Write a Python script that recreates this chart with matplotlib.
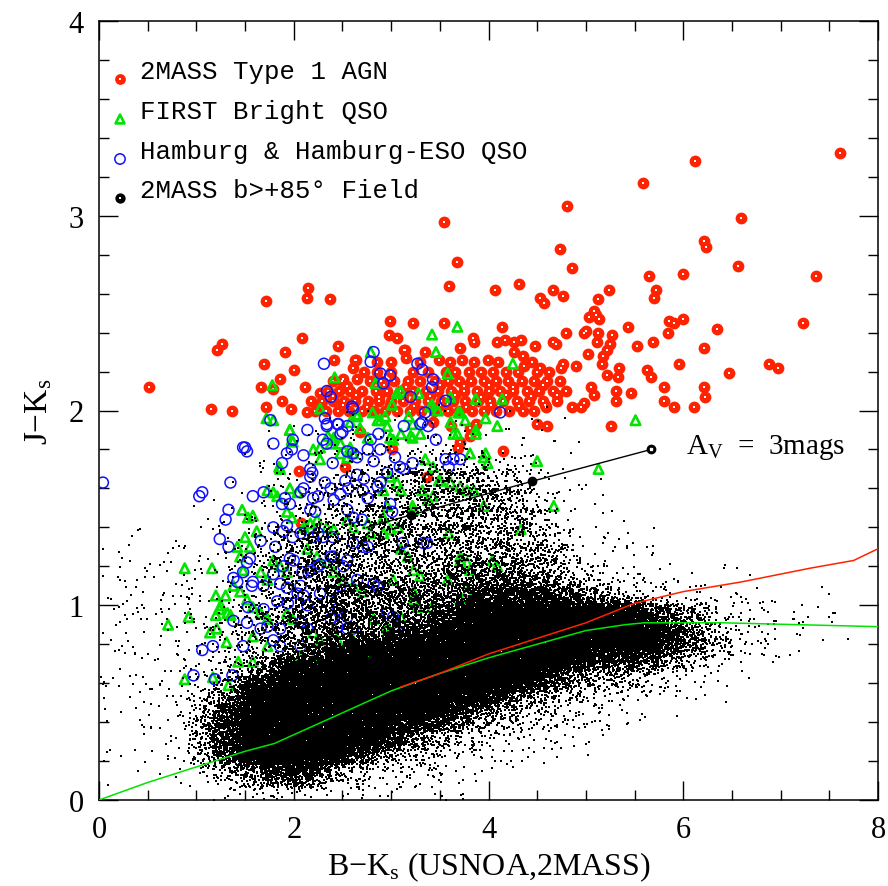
import numpy as np
import matplotlib
matplotlib.use("Agg")
import matplotlib.pyplot as plt

plt.rcParams['font.family'] = ['Liberation Serif', 'DejaVu Serif']
plt.rcParams['mathtext.fontset'] = 'custom'
plt.rcParams['mathtext.rm'] = 'Liberation Serif'
plt.rcParams['mathtext.it'] = 'Liberation Serif:italic'

# 2MASS Type 1 AGN (red)
agn_x = [0.51, 1.15, 1.37, 1.21, 1.26, 1.71, 2.15, 2.14, 2.37, 2.99, 3.22, 3.54, 2.98, 3.06, 3.84, 3.85,
         2.08, 1.91, 2.45, 3.14, 3.71, 4.09, 2.41, 2.64, 1.69, 2.00, 2.51, 1.86, 1.66, 2.12, 1.79, 1.72,
         1.97, 1.88, 2.14, 3.54, 3.68, 3.59, 4.07, 4.31, 4.81, 5.59, 6.12, 7.61, 6.59, 6.21, 6.23, 4.73,
         4.86, 6.56, 5.65, 6.00, 7.36, 4.66, 4.53, 4.57, 4.77, 5.24, 5.72, 5.70, 5.12, 5.08, 5.10, 5.13,
         5.03, 5.00, 4.98, 5.12, 5.11, 4.80, 5.27, 5.43, 5.85, 5.90, 6.00, 6.35, 7.23, 5.84, 5.69, 5.53,
         6.21, 4.66, 4.69, 4.48, 4.33, 5.25, 5.22, 5.18, 5.17, 5.02, 4.90, 4.74, 4.77, 4.53, 4.35, 4.36,
         5.34, 5.33, 5.22, 5.63, 5.67, 5.96, 6.88, 6.97, 6.47, 5.46, 5.31, 5.31, 5.05, 5.08, 5.80, 5.80,
         5.90, 6.11, 6.21, 6.22, 4.98, 4.95, 4.86, 4.59, 4.50, 4.60, 5.26, 3.61, 3.71, 3.81, 4.14, 3.13,
         3.15, 3.35, 3.49, 3.73, 3.99, 4.26, 4.17, 4.26, 2.63, 2.61, 2.50, 2.65, 2.27, 2.05, 2.07, 2.53,
         2.68, 3.01, 3.69, 3.81, 3.87, 3.43, 3.37, 4.15,
         # dense band
         2.22, 2.33, 2.45, 2.57, 2.70, 2.82, 2.94, 3.06, 3.19, 3.31, 3.44, 3.58, 3.70, 3.83, 3.95, 4.08,
         4.21, 4.35, 4.47,
         2.18, 2.29, 2.40, 2.52, 2.63, 2.76, 2.88, 3.00, 3.12, 3.25, 3.38, 3.51, 3.64, 3.76, 3.89, 4.02,
         4.15, 4.29, 4.42, 4.56, 4.70,
         2.35, 2.46, 2.58, 2.70, 2.84, 2.96, 3.09, 3.22, 3.36, 3.48, 3.62, 3.75, 3.88, 4.00, 4.12, 4.25,
         4.40, 4.52, 4.66, 4.80,
         2.40, 2.78, 2.90, 3.03, 3.17, 3.30, 3.45, 3.58, 3.70, 3.82, 3.95, 4.08, 4.20, 4.34, 4.47, 4.60,
         4.73,
         2.72, 2.86, 3.00, 3.22, 3.38, 3.56, 3.66, 3.80, 3.92, 4.05, 4.18, 4.30, 4.50, 4.62,
         2.86, 3.00, 3.30, 3.60, 3.85, 4.10, 4.45,
         2.28, 2.51, 2.75, 2.99, 3.24, 3.50, 3.77, 4.03, 4.31, 4.58,
         2.40, 2.64, 2.88, 3.12, 3.40, 3.66, 3.92, 4.18, 4.44, 4.70,
         2.55, 2.93, 3.15, 3.50, 3.75, 4.00, 4.25, 4.56]
agn_y = [2.12, 2.01, 2.00, 2.31, 2.34, 2.56, 2.63, 2.58, 2.57, 2.46, 2.45, 2.45, 2.39, 2.37, 2.37, 2.35,
         2.37, 2.30, 2.33, 2.31, 2.32, 2.35, 2.26, 2.26, 2.24, 2.21, 2.16, 2.16, 2.12, 2.12, 2.11, 2.02,
         2.01, 2.05, 1.99, 2.97, 2.76, 2.64, 2.62, 2.65, 3.05, 3.17, 3.28, 3.32, 2.99, 2.87, 2.84, 2.83,
         2.73, 2.74, 2.69, 2.70, 2.69, 2.62, 2.58, 2.55, 2.59, 2.62, 2.62, 2.58, 2.57, 2.51, 2.49, 2.47,
         2.48, 2.41, 2.40, 2.40, 2.35, 2.40, 2.39, 2.43, 2.46, 2.45, 2.47, 2.42, 2.45, 2.40, 2.35, 2.33,
         2.32, 2.35, 2.34, 2.33, 2.36, 2.34, 2.31, 2.28, 2.24, 2.29, 2.23, 2.22, 2.24, 2.22, 2.28, 2.23,
         2.22, 2.17, 2.18, 2.21, 2.17, 2.24, 2.24, 2.22, 2.19, 2.09, 2.10, 2.05, 2.12, 2.08, 2.12, 2.05,
         2.02, 2.02, 2.12, 2.07, 2.04, 2.02, 2.02, 2.02, 1.93, 1.92, 1.92, 1.92, 1.84, 1.87, 2.43, 2.31,
         2.27, 2.30, 2.26, 2.26, 2.26, 2.30, 2.36, 2.35, 2.26, 2.22, 2.15, 2.16, 2.09, 1.69, 1.42, 1.71,
         1.89, 1.80, 1.81, 1.91, 1.93, 1.94, 1.66, 1.79,
         2.00, 2.00, 2.00, 2.00, 2.00, 2.00, 2.00, 2.00, 2.00, 2.00, 2.00, 2.00, 2.00, 2.00, 2.00, 2.00,
         2.00, 2.00, 2.00,
         2.05, 2.05, 2.05, 2.05, 2.05, 2.05, 2.05, 2.05, 2.05, 2.05, 2.05, 2.05, 2.05, 2.05, 2.05, 2.05,
         2.05, 2.05, 2.05, 2.05, 2.05,
         2.10, 2.10, 2.10, 2.10, 2.10, 2.10, 2.10, 2.10, 2.10, 2.10, 2.10, 2.10, 2.10, 2.10, 2.10, 2.10,
         2.10, 2.10, 2.10, 2.10,
         2.15, 2.15, 2.15, 2.15, 2.15, 2.15, 2.15, 2.15, 2.15, 2.15, 2.15, 2.15, 2.15, 2.15, 2.15, 2.15,
         2.15,
         2.20, 2.20, 2.20, 2.20, 2.20, 2.20, 2.20, 2.20, 2.20, 2.20, 2.20, 2.20, 2.20, 2.20,
         2.25, 2.25, 2.25, 2.25, 2.25, 2.25, 2.25,
         2.025, 2.03, 2.02, 2.03, 2.025, 2.03, 2.02, 2.03, 2.025, 2.03,
         2.075, 2.08, 2.07, 2.08, 2.075, 2.08, 2.07, 2.08, 2.075, 2.08,
         2.125, 2.13, 2.12, 2.13, 2.125, 2.13, 2.12, 2.13]

# FIRST Bright QSO (green)
first_x = [0.88, 0.71, 0.92, 0.88, 1.16, 1.31, 1.14, 1.21, 1.24, 1.32, 1.43, 1.33, 1.17, 1.58, 1.73, 1.58,
           1.45, 1.48, 1.53, 1.58, 1.47, 1.73, 1.79, 1.83, 1.96, 2.04, 1.93, 1.98, 1.96, 1.98, 1.85, 1.86,
           1.79, 2.20, 2.27, 2.38, 2.41, 2.27, 2.48, 2.55, 2.58, 2.61, 2.68, 2.76, 2.81, 2.89, 2.96, 2.99,
           3.02, 3.10, 3.22, 3.30, 3.40, 3.48, 3.61, 3.64, 3.69, 3.87, 3.81, 3.95, 3.99, 3.35, 3.43, 3.49,
           3.32, 3.38, 3.43, 3.23, 2.99, 3.06, 3.10, 2.92, 2.96, 3.61, 3.71, 3.78, 3.85, 3.95, 3.07, 3.71,
           3.78, 4.04, 4.09, 3.23, 3.42, 2.10, 2.17, 2.24, 2.34, 2.41, 2.55, 2.61, 2.76, 2.79, 2.92, 2.99,
           1.79, 1.86, 1.93, 1.66, 1.73, 2.14, 2.24, 2.34, 2.41, 2.51, 2.61, 2.71, 1.38, 1.45, 1.52, 1.58,
           1.66, 1.73, 1.93, 1.99, 2.20, 2.27, 2.41, 2.48, 2.61, 2.82, 2.96, 3.10, 3.23, 2.07, 2.20, 2.48,
           2.61, 2.79, 5.51, 5.13, 4.67, 4.50, 4.09, 3.97, 3.71, 3.78, 4.33, 3.59, 3.51, 3.22, 2.92, 3.10,
           3.17, 3.23, 3.30, 3.27, 3.02, 2.96, 3.81, 3.58, 3.71, 3.73, 3.42, 3.68, 2.79, 3.46, 4.25, 3.58,
           2.84, 3.06, 3.10, 3.28, 3.01, 3.42, 3.61, 3.87, 4.14, 2.65, 2.86, 2.94, 3.18, 3.22, 3.71, 3.76,
           3.97, 3.87, 3.20, 3.68, 2.42, 1.78, 2.27, 1.72, 1.96, 2.58, 2.65, 2.35, 2.40, 1.99, 2.48, 1.20,
           1.25, 1.30, 1.35, 1.20, 1.42, 1.50, 1.55, 1.62]
first_y = [0.62, 0.90, 0.94, 1.19, 1.19, 0.81, 0.86, 0.88, 0.98, 0.96, 0.71, 0.59, 0.63, 0.71, 0.79, 0.84,
           1.25, 1.18, 1.45, 1.46, 1.49, 1.59, 1.58, 1.56, 1.60, 1.58, 1.48, 1.45, 1.90, 1.85, 1.71, 1.70,
           1.95, 1.80, 1.81, 1.83, 1.86, 1.75, 1.78, 1.76, 1.81, 1.78, 1.91, 1.86, 1.99, 1.95, 1.92, 1.86,
           1.85, 1.88, 1.86, 1.88, 2.02, 2.00, 1.94, 1.88, 1.99, 1.88, 1.78, 1.76, 1.73, 1.75, 1.71, 1.64,
           1.59, 1.54, 1.56, 1.49, 1.66, 1.63, 1.59, 1.59, 1.51, 1.63, 1.61, 1.59, 1.59, 1.51, 1.40, 1.25,
           1.22, 1.23, 1.20, 1.07, 0.99, 1.40, 1.42, 1.44, 1.40, 1.39, 1.44, 1.40, 1.42, 1.37, 1.45, 1.39,
           1.23, 1.20, 1.17, 1.17, 1.13, 1.29, 1.25, 1.22, 1.17, 1.13, 1.10, 1.07, 1.10, 1.07, 1.03, 0.99,
           0.96, 0.93, 0.96, 0.93, 0.86, 0.82, 0.86, 0.79, 0.82, 0.93, 0.88, 0.94, 1.03, 0.74, 0.72, 0.69,
           0.67, 0.74, 1.95, 1.70, 1.51, 1.74, 1.92, 1.78, 1.23, 1.07, 1.39, 1.37, 1.64, 1.51, 1.37, 1.29,
           1.25, 1.18, 1.15, 0.99, 1.13, 0.89, 1.18, 1.13, 1.03, 0.96, 2.39, 2.43, 2.30, 2.30, 2.24, 2.19,
           2.14, 2.09, 2.10, 2.09, 2.03, 2.03, 2.07, 2.06, 2.06, 1.98, 1.95, 1.97, 1.97, 1.93, 1.99, 1.95,
           1.96, 1.90, 1.87, 1.88, 2.17, 2.13, 2.01, 1.96, 1.90, 1.94, 1.97, 1.87, 1.85, 1.84, 1.83, 1.05,
           1.00, 1.05, 0.95, 0.95, 1.30, 1.35, 1.30, 1.38]

# Hamburg & Hamburg-ESO QSO (blue)
ham_x = [0.04, 1.03, 1.06, 1.35, 1.50, 1.52, 1.79, 1.76, 2.14, 1.93, 1.98, 2.10, 1.99, 2.17, 2.17, 2.34,
         2.34, 2.46, 2.48, 2.55, 2.65, 2.79, 2.87, 2.89, 2.76, 3.04, 3.22, 3.13, 3.46, 3.32, 3.35, 3.56,
         3.59, 1.33, 1.30, 1.24, 1.58, 1.69, 1.88, 1.91, 2.07, 2.25, 2.38, 2.41, 2.53, 2.56, 2.72, 2.65,
         2.17, 2.22, 2.76, 2.86, 3.01, 1.33, 1.55, 1.52, 1.66, 1.79, 1.93, 2.07, 2.20, 2.25, 2.40, 1.81,
         2.00, 2.09, 2.15, 2.25, 2.38, 2.51, 2.61, 2.76, 3.12, 3.33, 1.38, 1.42, 1.48, 1.58, 1.57, 1.69,
         1.79, 1.86, 1.93, 2.07, 2.10, 1.83, 1.94, 2.14, 2.27, 2.40, 2.48, 2.65, 2.86, 1.53, 1.69, 1.38,
         1.52, 1.66, 1.73, 1.86, 2.07, 2.14, 2.38, 2.45, 2.55, 2.61, 2.96, 3.02, 1.79, 1.86, 1.48, 1.06,
         1.17, 1.37, 0.97, 1.19, 2.07, 3.07, 2.31, 2.34, 2.38, 2.61, 2.32, 2.34, 2.45, 2.50, 2.55, 1.48,
         2.30, 2.82, 2.79, 3.27, 3.32, 2.89, 2.92, 2.99, 3.43, 3.42, 3.20, 3.56, 3.30, 3.38, 3.13, 2.60,
         4.12, 1.88, 2.40, 2.61, 2.82, 2.96, 3.09, 3.64, 3.71, 1.96, 2.10, 2.20, 2.19, 2.32, 2.48, 2.55,
         2.61, 2.70, 2.71, 2.89, 2.99, 1.89, 1.99, 2.30, 1.89, 1.96, 2.17, 2.27, 2.41, 2.55, 2.71, 3.37,
         2.04, 2.82, 2.86, 2.45, 2.55, 2.48]
ham_y = [1.63, 1.56, 1.58, 1.63, 1.81, 1.79, 1.83, 1.95, 1.90, 1.78, 1.80, 1.77, 1.85, 1.70, 1.66, 1.83,
         1.93, 1.93, 1.88, 1.79, 1.76, 1.85, 1.88, 1.80, 1.80, 1.76, 1.73, 1.70, 1.85, 1.94, 1.99, 1.75,
         1.71, 1.49, 1.44, 1.34, 1.56, 1.58, 1.52, 1.55, 1.58, 1.56, 1.60, 1.54, 1.64, 1.60, 1.65, 1.67,
         1.49, 1.48, 1.55, 1.61, 1.48, 1.30, 1.24, 1.22, 1.33, 1.40, 1.41, 1.37, 1.35, 1.37, 1.35, 1.30,
         1.23, 1.17, 1.17, 1.20, 1.25, 1.20, 1.32, 1.30, 1.32, 1.32, 1.14, 1.12, 1.17, 1.12, 1.10, 1.10,
         1.16, 1.11, 1.09, 1.10, 1.05, 1.02, 1.01, 1.00, 1.06, 1.07, 1.10, 1.13, 1.10, 0.99, 0.98, 0.92,
         0.91, 0.88, 0.89, 0.88, 0.91, 0.88, 0.93, 0.89, 0.88, 0.88, 0.96, 0.94, 0.82, 0.79, 0.79, 0.77,
         0.79, 0.64, 0.64, 0.62, 0.79, 0.86, 2.24, 2.10, 2.07, 2.01, 1.96, 1.92, 1.93, 1.89, 1.92, 1.81,
         1.85, 2.30, 2.25, 2.24, 2.21, 2.19, 2.14, 2.18, 2.16, 2.12, 2.07, 2.05, 1.93, 1.92, 1.92, 2.02,
         1.99, 1.73, 1.73, 1.78, 1.74, 1.68, 1.71, 1.75, 1.75, 1.52, 1.60, 1.55, 1.68, 1.63, 1.57, 1.49,
         1.45, 1.44, 1.59, 1.63, 1.52, 1.38, 1.35, 1.35, 1.20, 1.24, 1.18, 1.21, 1.25, 1.23, 1.30, 1.32,
         1.06, 1.11, 1.09, 0.98, 0.94, 0.91]

# b>+85 deg field: density code per cell, columns of 0.25 in B-K, rows of 0.1 in J-K (row 0 at the bottom)
field_cols = ["01111222222211000000", "01111222222211000000", "01112222222221000000",
              "02233333333221000000", "14676543333222100000", "36888644433332210000",
              "47999975554444222100", "48999986665555333110", "48999997776666442220",
              "36999998777666553311", "35899999777666555331", "34799999777666655331",
              "24689999877666655421", "24579999877666666421", "23468999987766666421",
              "12357999998766666421", "11346899998766665321", "01245799998766654311",
              "00235689998665432111", "00124579997543221110", "00123468996432111000",
              "00012468995321100000", "00002358984211000000", "00001247873210000000",
              "00000236763100000000", "00000124542100000000", "00000013432100000000",
              "00000002331000000000", "00000001221000000000", "00000000111000000000",
              "00000000110000000000", "00000000000000000000"]
field_counts = [0, 2, 4, 8, 17, 35, 70, 130, 300, 700]

# model tracks
blue_track_x = [0.0, 0.5, 1.0, 1.5, 1.8, 2.2, 2.6, 3.0, 3.5, 4.0, 4.5, 5.0, 5.4, 5.6, 6.4, 7.2, 8.0]
blue_track_y = [0.0, 0.09, 0.17, 0.25, 0.29, 0.38, 0.47, 0.56, 0.65, 0.73, 0.80, 0.87, 0.90, 0.91, 0.91, 0.90, 0.89]
red_track_x = [3.1, 3.5, 4.0, 4.5, 5.0, 5.4, 5.5, 6.0, 6.6, 7.3, 7.75, 8.0]
red_track_y = [0.58, 0.65, 0.75, 0.83, 0.91, 0.99, 1.01, 1.07, 1.12, 1.19, 1.23, 1.29]

# reddening vector
av_x = [2.75, 3.20, 4.45, 5.67]
av_y = [1.40, 1.463, 1.637, 1.80]

red = '#ff2200'
green = '#00e400'
blue = '#1010ff'

fig = plt.figure(figsize=(8.88, 8.87), dpi=100)
ax = fig.add_axes([99 / 888, 1 - 801 / 887, 779 / 888, 779 / 887])

ax.scatter(agn_x, agn_y, s=72, marker='o', color=red, linewidths=0, zorder=2)
ax.scatter(agn_x, agn_y, s=2.2, marker='s', color='white', linewidths=0, zorder=2.1)
ax.scatter(first_x, first_y, s=46, marker='^', facecolors='none', edgecolors=green,
           linewidths=1.9, zorder=3)
ax.scatter(ham_x, ham_y, s=62, marker='o', facecolors='none', edgecolors=blue,
           linewidths=1.1, zorder=4)

# field dots: each cell's dots are spread over a soft two-cell footprint
fx, fy = [], []
for c, col in enumerate(field_cols):
    for r, ch in enumerate(col):
        n = field_counts[int(ch)]
        if n == 0:
            continue
        k = (np.arange(1, n + 1) + c * 53 + r * 211).astype(float)
        u = (k * k * np.sqrt(2)) % 1 + (k * k * np.sqrt(3)) % 1 - 0.5
        v = (k * k * np.sqrt(5)) % 1 + (k * k * np.sqrt(7)) % 1 - 0.5
        fx.append(0.25 * (c + u))
        fy.append(0.1 * (r + v))
fx = np.concatenate(fx)
fy = np.concatenate(fy)
keep = (fx >= 0) & (fy >= 0)
ax.scatter(fx[keep], fy[keep], s=2.0, marker='s', color='black', linewidths=0,
           antialiased=False, zorder=5)

ax.plot(blue_track_x, blue_track_y, color=green, lw=1.1, zorder=6)
ax.plot(red_track_x, red_track_y, color=red, lw=1.1, zorder=6)

ax.plot(av_x, av_y, color='black', lw=1.0, zorder=7)
ax.plot(av_x[1:3], av_y[1:3], 'o', color='black', ms=6, zorder=7)
ax.plot(av_x[-1], av_y[-1], 'o', color='black', ms=6, zorder=7)
ax.plot(av_x[-1], av_y[-1], 's', color='white', ms=1.5, zorder=8)
ax.text(6.03, 1.815, 'A$_{\\rm V}$  =  3mags', fontsize=21, va='center', ha='left', zorder=8)

# legend, drawn by hand
leg_labels = ['2MASS Type 1 AGN', 'FIRST Bright QSO', 'Hamburg & Hamburg-ESO QSO',
              '2MASS b>+85° Field']
leg_rows = [72, 112, 152, 191]
for i, (lab, py) in enumerate(zip(leg_labels, leg_rows)):
    yt = (801 - py) / 779
    ym = (801 - py - 8) / 779
    xm = (120 - 99) / 779
    if i == 0:
        ax.scatter([xm], [ym], s=60, marker='o', color=red, linewidths=0, transform=ax.transAxes, zorder=9)
        ax.scatter([xm], [ym], s=2.2, marker='s', color='white', linewidths=0, transform=ax.transAxes, zorder=9)
    elif i == 1:
        ax.scatter([xm], [ym], s=40, marker='^', facecolors='none', edgecolors=green, linewidths=1.9,
                   transform=ax.transAxes, zorder=9)
    elif i == 2:
        ax.scatter([xm], [ym], s=55, marker='o', facecolors='none', edgecolors=blue, linewidths=1.1,
                   transform=ax.transAxes, zorder=9)
    else:
        ax.scatter([xm], [ym], s=55, marker='o', color='black', linewidths=0, transform=ax.transAxes, zorder=9)
        ax.scatter([xm], [ym], s=2.2, marker='s', color='white', linewidths=0, transform=ax.transAxes, zorder=9)
    ax.text((140 - 99) / 779, yt, lab, transform=ax.transAxes, fontsize=18.5, va='center', ha='left',
            family=['Liberation Mono', 'DejaVu Sans Mono'], zorder=9)

ax.set_xlim(0, 8)
ax.set_ylim(0, 4)
ax.set_xticks([0, 2, 4, 6, 8])
ax.set_xticks(np.arange(0, 8.01, 0.5), minor=True)
ax.set_yticks([0, 1, 2, 3, 4])
ax.set_yticks(np.arange(0, 4.01, 0.2), minor=True)
ax.tick_params(which='both', direction='in', top=True, right=True, width=1.0, labelsize=22)
ax.tick_params(which='major', length=13.5)
ax.tick_params(which='minor', length=7)
ax.tick_params(axis='x', pad=11)
ax.tick_params(axis='y', pad=11)
for sp in ax.spines.values():
    sp.set_linewidth(1.1)

ax.set_xlabel('B−K$_{\\rm s}$ (USNOA,2MASS)', fontsize=23, labelpad=4)
ax.set_ylabel('J−K$_{\\rm s}$', fontsize=24, labelpad=10)

fig.savefig('out.png', dpi=100)
